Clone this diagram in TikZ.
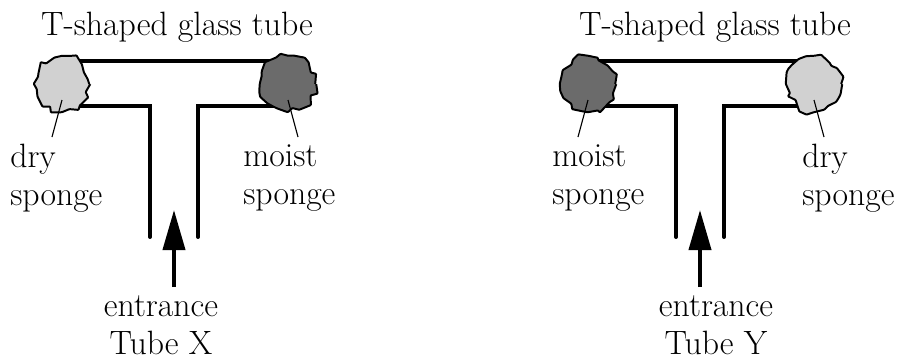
\documentclass[tikz,border=0pt]{standalone}
\usetikzlibrary{arrows.meta,positioning,decorations.pathmorphing}

\begin{document}
\begin{tikzpicture}[
  x=0.025cm, y=-0.025cm,
  node distance=0.2cm,
  every node/.style={font=\fontsize{24}{27}\selectfont},
  wall/.style={line width=2.8pt},
  stem/.style={wall,line cap=round},
  sponge/.style={draw,circle,minimum size=1.36cm,inner sep=0pt,line width=1.4pt,
    decorate,decoration={random steps,segment length=5pt,amplitude=2.4pt},
    rounded corners=0.5pt},
  dry/.style={sponge,fill=black!18},
  moist/.style={sponge,fill=black!58},
  pointer/.style={line width=0.8pt},
  caption/.style={inner sep=0pt,align=left,anchor=north west},
  flow/.style={line width=2.8pt,-{Triangle[length=1cm,width=0.55cm]}}
]
  \pgfmathsetseed{12}
  \useasboundingbox (0,0) rectangle (904,362);

  % shift / left sponge / right sponge / x of labels / x of title / shift of entry text / tube
  \foreach \dx/\lsp/\rsp/\lx/\rx/\tx/\ex/\tube in
      {0/dry/moist/10/243/177/-13/X,526/moist/dry/26/276/189/16/Y} {
    \begin{scope}[xshift=\dx*0.025cm]
      % glass walls
      \draw[wall] (70,61) -- (280,61);
      \draw[stem] (70,106) -- (150,106) -- (150,237);
      \draw[stem] (280,106) -- (198,106) -- (198,237);

      % sponges plugging both ends
      \node[\lsp] (left\tube) at (62,84) {};
      \node[\rsp] (right\tube) at (288,84) {};

      \node[anchor=base] (title\tube) at (\tx,35) {T-shaped glass tube};
      \node[caption] (lname\tube) at (\lx,144) {\lsp\\sponge};
      \node[caption] (rname\tube) at (\rx,144) {\rsp\\sponge};
      \draw[pointer] ([shift={(0,16)}]left\tube.center) -- ([shift={(-10,53)}]left\tube.center);
      \draw[pointer] ([shift={(0,16)}]right\tube.center) -- ([shift={(10,53)}]right\tube.center);

      % air comes in from below
      \coordinate (tail\tube) at (174,287);
      \coordinate (tip\tube) at (174,210);
      \draw[flow] (tail\tube) -- (tip\tube);
      \node[align=center,inner sep=0pt,below=of tail\tube,xshift=\ex*0.025cm] (entry\tube) {entrance\\Tube \tube};
    \end{scope}
  }
\end{tikzpicture}
\end{document}
